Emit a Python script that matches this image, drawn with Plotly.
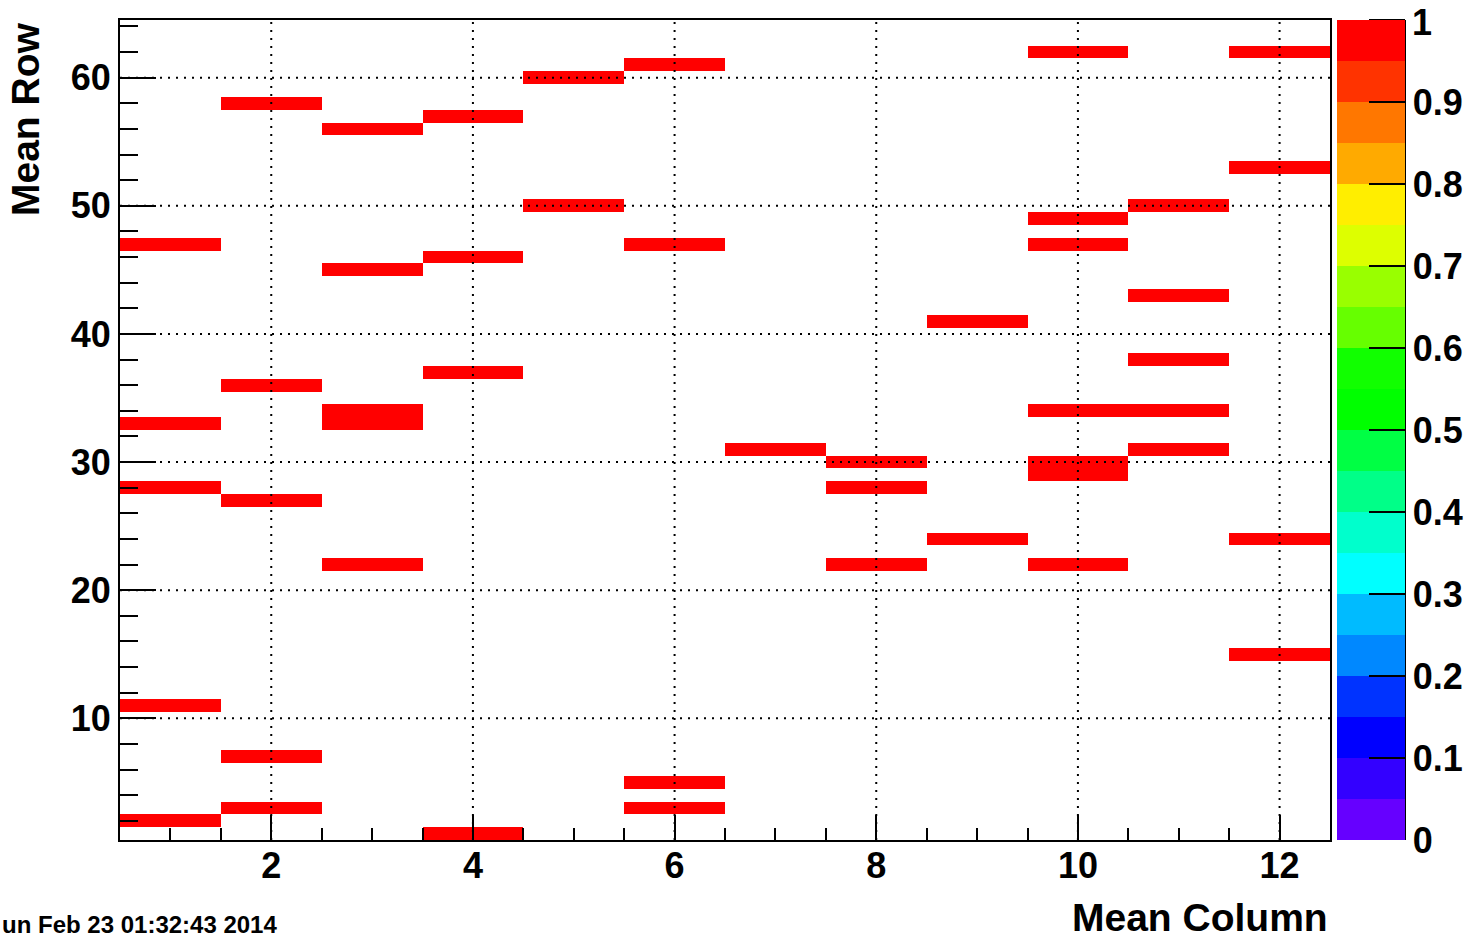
import plotly.graph_objects as go

# ---- data: filled bins (column -> list of row bins with content 1) ----
columns = list(range(1, 13))
rows_per_column = {
    1: [2, 11, 28, 33, 47],
    2: [3, 7, 27, 36, 58],
    3: [22, 33, 34, 45, 56],
    4: [1, 37, 46, 57],
    5: [50, 60],
    6: [3, 5, 47, 61],
    7: [31],
    8: [22, 28, 30],
    9: [24, 41],
    10: [22, 29, 30, 34, 47, 49, 62],
    11: [31, 34, 38, 43, 50],
    12: [15, 24, 53, 62],
}
row_bins = list(range(1, 65))
bin_value = 1.0

palette = ["#6600FF", "#3300FF", "#0000FF", "#0033FF", "#0088FF",
           "#00BBFF", "#00FFFF", "#00FFCC", "#00FF88", "#00FF44",
           "#00FF00", "#11FF00", "#66FF00", "#99FF00", "#DDFF00",
           "#FFEE00", "#FFAA00", "#FF7700", "#FF3300", "#FF0000"]
cbar_ticks = [0, 0.1, 0.2, 0.3, 0.4, 0.5, 0.6, 0.7, 0.8, 0.9]
cbar_labels = ["0", "0.1", "0.2", "0.3", "0.4", "0.5", "0.6", "0.7", "0.8", "0.9"]
cbar_top_label = "1"
x_grid = [2, 4, 6, 8, 10, 12]
y_grid = [10, 20, 30, 40, 50, 60]

# ---- build z matrix ----
z = [[None for _ in columns] for _ in row_bins]
for c, rs in rows_per_column.items():
    for r in rs:
        z[r - 1][c - 1] = bin_value

n = len(palette)
colorscale = []
for i, col in enumerate(palette):
    colorscale.append([i / n, col])
    colorscale.append([(i + 1) / n, col])

FONT = "Liberation Sans"

W, H = 1468, 938
L, R, T, B = 120, 1330, 20, 840
pw, ph = R - L, B - T
CB_L, CB_R = 1337, 1405

fig = go.Figure()
fig.add_trace(go.Heatmap(
    x=columns, y=row_bins, z=z,
    zmin=0, zmax=1, colorscale=colorscale,
    hoverongaps=False,
    colorbar=dict(
        x=(CB_L - L) / pw, xanchor="left", xpad=0,
        y=0, yanchor="bottom", ypad=0, len=1, lenmode="fraction",
        thickness=CB_R - CB_L, thicknessmode="pixels",
        outlinewidth=0,
        tickmode="array", tickvals=cbar_ticks, ticktext=cbar_labels,
        ticks="inside", ticklen=36, tickwidth=2, tickcolor="black",
        tickfont=dict(family=FONT, size=36, weight="bold", color="black"),
    ),
))

fig.update_layout(
    width=W, height=H,
    margin=dict(l=L, r=W - R, t=T, b=H - B, pad=0, autoexpand=False),
    paper_bgcolor="white", plot_bgcolor="white",
    showlegend=False,
)
fig.update_xaxes(
    range=[0.5, 12.5], showgrid=False, zeroline=False, automargin=False,
    showline=True, linewidth=2, linecolor="black", mirror=True,
    tickmode="linear", tick0=0, dtick=2,
    ticks="inside", ticklen=25, tickwidth=2, tickcolor="black",
    minor=dict(dtick=0.5, tick0=0, ticks="inside", ticklen=12, tickwidth=2, tickcolor="black", showgrid=False),
    tickfont=dict(family=FONT, size=36, weight="bold", color="black"),
    ticklabelstandoff=-7,
    layer="above traces",
)
fig.update_yaxes(
    range=[0.5, 64.5], showgrid=False, zeroline=False, automargin=False,
    showline=True, linewidth=2, linecolor="black", mirror=True,
    tickmode="linear", tick0=0, dtick=10,
    ticks="inside", ticklen=36, tickwidth=2, tickcolor="black",
    minor=dict(dtick=2, tick0=0, ticks="inside", ticklen=18, tickwidth=2, tickcolor="black", showgrid=False),
    tickfont=dict(family=FONT, size=36, weight="bold", color="black"),
    layer="above traces",
)

shapes = []
for gx in x_grid:
    shapes.append(dict(type="line", xref="x", yref="paper", x0=gx, x1=gx, y0=0, y1=1,
                       line=dict(color="black", width=2, dash="2px,6px"), layer="above"))
for gy in y_grid:
    shapes.append(dict(type="line", xref="paper", yref="y", x0=0, x1=1, y0=gy, y1=gy,
                       line=dict(color="black", width=2, dash="2px,6px"), layer="above"))
# palette right axis line and top tick
shapes.append(dict(type="line", xref="paper", yref="paper",
                   x0=(CB_R - L) / pw, x1=(CB_R - L) / pw, y0=0, y1=1,
                   line=dict(color="black", width=2), layer="above"))
shapes.append(dict(type="line", xref="paper", yref="paper",
                   x0=(CB_R - 36 - L) / pw, x1=(CB_R - L) / pw, y0=1, y1=1,
                   line=dict(color="black", width=2), layer="above"))
fig.update_layout(shapes=shapes)

fig.add_annotation(text=cbar_top_label, xref="paper", yref="paper",
                   x=(1410 - L) / pw, y=(B - 22) / ph, xanchor="left", yanchor="middle",
                   showarrow=False,
                   font=dict(family=FONT, size=36, weight="bold", color="black"))
fig.add_annotation(text="Mean Row", xref="paper", yref="paper",
                   x=(25 - L) / pw, y=1, xanchor="center", yanchor="top",
                   textangle=-90, showarrow=False,
                   font=dict(family=FONT, size=39, weight="bold", color="black"))
fig.add_annotation(text="Mean Column", xref="paper", yref="paper",
                   x=1, y=(B - 917) / ph, xanchor="right", yanchor="middle",
                   showarrow=False,
                   font=dict(family=FONT, size=39, weight="bold", color="black"))
fig.add_annotation(text="un Feb 23 01:32:43 2014", xref="paper", yref="paper",
                   x=(0 - L) / pw, y=(B - 924) / ph, xanchor="left", yanchor="middle",
                   showarrow=False,
                   font=dict(family=FONT, size=24, weight="bold", color="black"))

fig.write_html("out.html", config={"displayModeBar": False},
               post_script="document.body.style.margin='0';document.body.style.overflow='hidden';")
